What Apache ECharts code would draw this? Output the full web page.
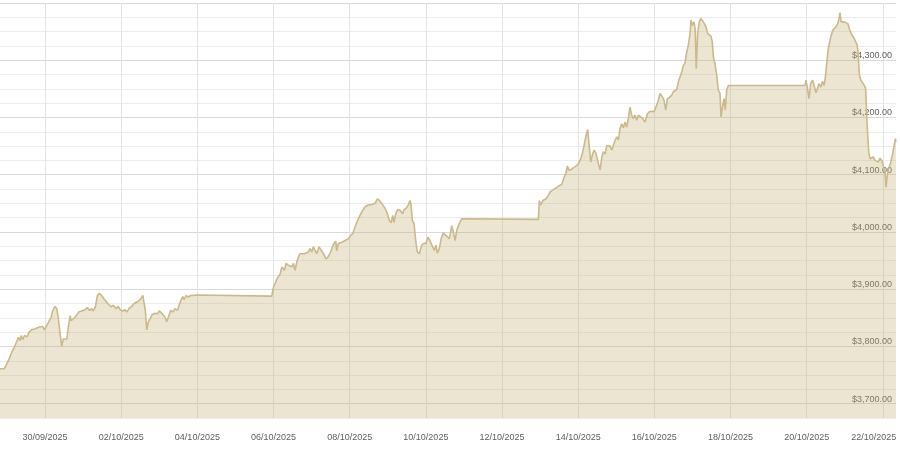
<!DOCTYPE html>
<html>
<head>
<meta charset="utf-8">
<script src="https://cdn.jsdelivr.net/npm/echarts@6/dist/echarts.min.js"></script>
<style>
  html, body { margin: 0; padding: 0; background: #fff; }
  #chart { width: 900px; height: 463px; }
</style>
</head>
<body>
<div id="chart"></div>
<script>
// hours counted from 30/09/2025 00:00
var hours = [
  -28.4, -25.8, -24.1, -23.1, -21.0, -19.5, -17.8, -16.8, -15.8, -15.1, -14.1, -13.0, -12.0, -11.2, -9.9, -8.4,
  -7.4, -6.1, -4.9, -3.6, -2.5, -1.5, -0.4, 1.1, 2.7, 3.8, 4.9, 6.3, 7.4, 8.4, 9.5, 10.5,
  11.5, 12.6, 13.7, 14.7, 15.8, 16.4, 17.5, 18.9, 20.0, 21.2, 23.1, 25.2, 26.7, 27.9, 29.4, 30.4,
  31.7, 33.0, 34.2, 35.7, 37.2, 38.4, 39.5, 40.5, 41.6, 43.0, 44.7, 46.2, 47.3, 49.0, 50.4, 51.5,
  52.9, 54.6, 56.1, 57.3, 58.8, 60.3, 61.6, 62.4, 63.2, 64.1, 65.1, 66.2, 67.6, 69.3, 70.8, 72.0,
  73.6, 74.6, 75.6, 76.7, 77.7, 79.2, 80.5, 81.9, 83.4, 84.6, 85.5, 86.8, 87.6, 88.9, 90.3, 91.8,
  93.5, 95.2, 96.0, 142.9, 143.9, 145.0, 146.0, 147.0, 148.1, 149.2, 150.2, 150.8, 151.9, 153.3, 154.4, 155.5,
  156.5, 157.6, 158.6, 159.6, 160.7, 161.8, 163.2, 164.5, 165.9, 167.0, 168.1, 169.1, 170.2, 171.2, 172.7, 173.9,
  175.4, 177.1, 178.5, 180.0, 181.7, 183.2, 183.8, 184.8, 187.0, 189.1, 191.1, 192.6, 193.9, 195.4, 197.4, 199.6,
  201.7, 202.7, 203.7, 204.8, 205.9, 206.9, 208.0, 209.4, 210.7, 212.2, 213.2, 214.3, 215.7, 217.0, 218.1, 219.1,
  219.9, 221.0, 222.3, 223.7, 225.4, 226.2, 227.5, 228.9, 230.0, 230.7, 231.5, 232.5, 233.6, 234.6, 235.9, 237.4,
  238.8, 240.1, 241.2, 242.2, 243.3, 244.3, 245.4, 246.4, 247.2, 248.5, 249.6, 251.0, 252.1, 253.5, 254.8, 256.3,
  257.3, 258.4, 259.5, 260.5, 261.5, 262.6, 310.9, 311.5, 312.4, 313.7, 314.5, 315.8, 317.2, 318.3, 319.3, 320.3,
  322.5, 324.1, 325.6, 327.1, 328.3, 329.2, 330.2, 331.5, 332.9, 334.6, 336.1, 337.6, 338.9, 339.9, 341.0, 342.0,
  342.8, 343.9, 344.9, 346.0, 347.1, 348.3, 349.8, 350.9, 351.9, 353.0, 354.0, 355.0, 356.1, 357.2, 358.2, 359.2,
  360.3, 361.3, 362.4, 363.4, 364.5, 365.6, 366.6, 367.6, 368.7, 369.7, 370.8, 371.8, 372.9, 373.9, 375.4, 376.7,
  378.1, 379.6, 380.8, 382.3, 383.8, 385.0, 386.5, 387.6, 389.3, 390.1, 391.2, 392.2, 393.5, 395.0, 396.0, 397.0,
  398.1, 399.1, 400.2, 401.3, 402.3, 403.3, 404.4, 405.4, 406.5, 407.1, 407.9, 409.0, 409.8, 410.4, 411.3, 412.3,
  413.4, 414.5, 415.5, 416.6, 417.6, 418.6, 419.7, 420.5, 421.2, 422.2, 423.3, 424.3, 425.4, 426.0, 427.1, 427.9,
  428.7, 429.6, 430.6, 478.9, 479.6, 480.4, 481.5, 482.5, 483.8, 484.8, 485.9, 486.7, 487.8, 488.9, 489.9, 491.0,
  491.8, 492.6, 493.6, 494.3, 495.2, 496.4, 497.4, 498.3, 499.6, 500.4, 501.0, 501.7, 502.7, 503.7, 504.8, 505.9,
  506.9, 508.0, 509.0, 510.0, 511.1, 511.9, 512.5, 513.2, 514.2, 515.3, 516.3, 517.2, 517.8, 518.5, 519.1, 519.9,
  521.0, 522.0, 523.1, 524.1, 525.1, 526.2, 527.3, 528.3, 529.4, 530.0, 530.8, 531.7, 533.0, 534.0, 535.0, 535.9,
  536.3
];
var prices = [
  3761, 3761, 3770, 3775, 3790, 3798, 3809, 3816, 3810, 3819, 3812, 3819, 3822, 3817, 3826, 3829,
  3826, 3831, 3829, 3834, 3831, 3835, 3829, 3837, 3845, 3851, 3863, 3870, 3866, 3848, 3822, 3800,
  3813, 3816, 3813, 3834, 3854, 3845, 3848, 3851, 3854, 3860, 3862, 3864, 3868, 3863, 3866, 3862,
  3869, 3889, 3893, 3889, 3883, 3879, 3875, 3877, 3869, 3872, 3866, 3870, 3864, 3862, 3864, 3860,
  3866, 3870, 3875, 3872, 3879, 3883, 3889, 3892, 3863, 3829, 3843, 3845, 3856, 3858, 3857, 3862,
  3858, 3860, 3851, 3843, 3851, 3863, 3860, 3866, 3863, 3866, 3880, 3887, 3882, 3889, 3886, 3889,
  3889, 3890, 3888, 3888, 3903, 3910, 3917, 3922, 3926, 3939, 3942, 3933, 3945, 3942, 3945, 3939,
  3945, 3933, 3947, 3956, 3962, 3959, 3962, 3963, 3965, 3971, 3965, 3974, 3977, 3962, 3974, 3977,
  3962, 3953, 3957, 3965, 3978, 3984, 3967, 3980, 3982, 3985, 3988, 3994, 3997, 4009, 4023, 4035,
  4044, 4041, 4047, 4044, 4048, 4045, 4050, 4058, 4055, 4050, 4048, 4041, 4032, 4020, 4016, 4029,
  4017, 4032, 4039, 4038, 4032, 4039, 4041, 4047, 4055, 4047, 4020, 4015, 3985, 3965, 3962, 3977,
  3980, 3980, 3991, 3987, 3985, 3974, 3968, 3977, 3963, 3971, 3988, 3998, 4000, 3992, 3988, 4011,
  4000, 3985, 4003, 4011, 4017, 4023, 4022, 4055, 4047, 4055, 4052, 4058, 4064, 4070, 4073, 4074,
  4078, 4081, 4083, 4095, 4103, 4115, 4108, 4109, 4112, 4115, 4119, 4128, 4140, 4154, 4169, 4179,
  4154, 4122, 4134, 4143, 4138, 4140, 4108, 4131, 4140, 4136, 4151, 4151, 4150, 4143, 4146, 4160,
  4166, 4161, 4181, 4189, 4182, 4192, 4183, 4198, 4218, 4204, 4198, 4204, 4195, 4204, 4201, 4198,
  4192, 4206, 4210, 4211, 4210, 4218, 4230, 4242, 4235, 4230, 4213, 4233, 4235, 4239, 4245, 4243,
  4249, 4262, 4271, 4280, 4291, 4295, 4314, 4326, 4347, 4370, 4361, 4367, 4352, 4285, 4347, 4367,
  4373, 4370, 4364, 4358, 4347, 4350, 4342, 4332, 4306, 4294, 4274, 4248, 4242, 4201, 4221, 4233,
  4213, 4248, 4256, 4256, 4265, 4253, 4233, 4259, 4265, 4263, 4243, 4250, 4259, 4253, 4263, 4256,
  4271, 4294, 4320, 4323, 4341, 4352, 4350, 4358, 4364, 4373, 4383, 4367, 4370, 4367, 4368, 4364,
  4355, 4347, 4344, 4338, 4339, 4326, 4309, 4274, 4265, 4263, 4256, 4250, 4204, 4169, 4140, 4128,
  4127, 4131, 4125, 4128, 4122, 4129, 4125, 4122, 4105, 4078, 4099, 4111, 4122, 4134, 4137, 4163,
  4157
];
var dateTicks = ['30/09/2025', '02/10/2025', '04/10/2025', '06/10/2025', '08/10/2025', '10/10/2025',
  '12/10/2025', '14/10/2025', '16/10/2025', '18/10/2025', '20/10/2025', '22/10/2025'];
var priceTicks = [3700, 3800, 3900, 4000, 4100, 4200, 4300];

function tickHour(s) {
    var p = s.split('/');
    return (Date.UTC(+p[2], +p[1] - 1, +p[0]) - Date.UTC(2025, 8, 30)) / 3600000;
}
var tickHours = dateTicks.map(tickHour);

var myChart = echarts.init(document.getElementById('chart'));
var option = {
    backgroundColor: '#fff',
    animation: false,
    grid: {
        left: 0,
        right: 4,
        top: 3,
        bottom: 45
    },
    xAxis: {
        type: 'value',
        min: hours[0],
        max: hours[hours.length - 1],
        axisLine: { show: false },
        axisTick: { show: false, customValues: tickHours },
        splitLine: { show: true, lineStyle: { color: '#e3e3e3', width: 1 } },
        axisLabel: {
            customValues: tickHours,
            margin: 15,
            color: '#5e5e5e',
            fontSize: 9,
            fontFamily: 'Liberation Sans, Arial, sans-serif',
            formatter: function (v) {
                var i = tickHours.indexOf(v);
                if (i < 0) return '';
                if (i === dateTicks.length - 1) return '{last|' + dateTicks[i] + '}';
                return dateTicks[i];
            },
            rich: {
                last: { padding: [0, 18, 0, 0], color: '#5e5e5e', fontSize: 9 }
            }
        }
    },
    yAxis: {
        type: 'value',
        position: 'right',
        min: 3675,
        max: 4400,
        interval: 25,
        axisLine: { show: false },
        axisTick: { show: false },
        splitLine: {
            show: true,
            lineStyle: { color: ['#ececec', '#d9d9d9', '#ececec', '#ececec'], width: 1 }
        },
        axisLabel: {
            inside: true,
            margin: 4,
            color: '#5e5e5e',
            fontSize: 9,
            fontFamily: 'Liberation Sans, Arial, sans-serif',
            verticalAlign: 'bottom',
            padding: [0, 0, 0, 0],
            formatter: function (v) {
                if (priceTicks.indexOf(v) < 0) return '';
                return '$' + v.toLocaleString('en-US', { minimumFractionDigits: 2, maximumFractionDigits: 2 });
            }
        }
    },
    series: [
        {
            type: 'line',
            data: hours.map(function (h, i) { return [h, prices[i]]; }),
            symbol: 'none',
            smooth: false,
            sampling: null,
            lineStyle: { color: '#cbb98b', width: 1.6 },
            areaStyle: { color: 'rgba(196, 172, 112, 0.45)' }
        }
    ]
};
myChart.setOption(option, true);
</script>
</body>
</html>
